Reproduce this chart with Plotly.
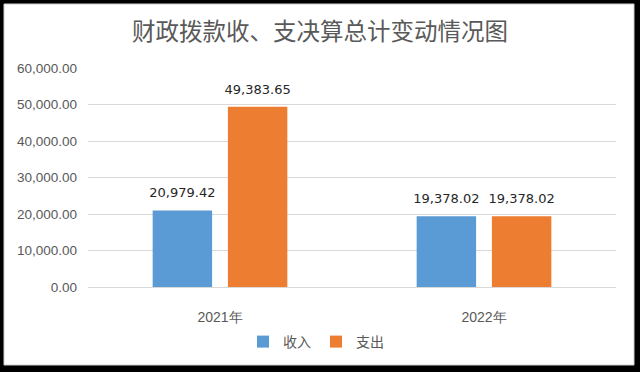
import plotly.graph_objects as go

categories = ["2021年", "2022年"]
income = [20979.42, 19378.02]
expense = [49383.65, 19378.02]
series_names = ["收入", "支出"]
y_tick_vals = [0, 10000, 20000, 30000, 40000, 50000, 60000]
y_tick_text = ["0.00", "10,000.00", "20,000.00", "30,000.00", "40,000.00", "50,000.00", "60,000.00"]
title_text = "财政拨款收、支决算总计变动情况图"

W, H = 640, 372
L, R, T, B = 88, 24, 68, 85
pw, ph = W - L - R, H - T - B

def fmt(v):
    return f"{v:,.2f}"

fig = go.Figure()
series = [(series_names[0], income, "#5B9BD5"), (series_names[1], expense, "#ED7D31")]
for i, (name, vals, color) in enumerate(series):
    fig.add_trace(go.Bar(
        x=categories, y=vals, name=name, marker_color=color, marker_line_width=0,
        offsetgroup=str(i),
    ))
for i, (name, vals, color) in enumerate(series):
    fig.add_trace(go.Scatter(
        x=categories, y=vals, mode="markers+text", showlegend=False, hoverinfo="skip",
        offsetgroup=str(i), text=[fmt(v) for v in vals], textposition="top center",
        marker=dict(size=14, color="rgba(0,0,0,0)"), cliponaxis=False,
        textfont=dict(family="DejaVu Sans", size=13, color="#262626"),
    ))

def px_to_paper_x(px):
    return (px - L) / pw

def px_to_paper_y(py):
    return (H - B - py) / ph

# white panel on black background
fig.add_shape(type="rect", xref="paper", yref="paper", layer="below",
              x0=px_to_paper_x(4), x1=px_to_paper_x(634),
              y0=px_to_paper_y(365), y1=px_to_paper_y(4),
              fillcolor="white", line=dict(color="#d0d0d0", width=1))

fig.update_layout(
    width=W, height=H,
    margin=dict(l=L, r=R, t=T, b=B, autoexpand=False),
    paper_bgcolor="black", plot_bgcolor="rgba(0,0,0,0)",
    barmode="group", scattermode="group", bargap=0.43, bargroupgap=0.21, scattergap=0.43,
    title=dict(text=title_text, x=0.5, xanchor="center", xref="container",
               y=1 - 32 / H, yanchor="middle",
               font=dict(family="Noto Sans CJK SC", size=23.5, color="#595959")),
    showlegend=True,
    legend=dict(orientation="h", x=px_to_paper_x(316), xanchor="center",
                y=px_to_paper_y(342), yanchor="middle",
                font=dict(family="Noto Sans CJK SC", size=14, color="#595959"),
                itemwidth=30, bgcolor="rgba(0,0,0,0)"),
    font=dict(family="Liberation Sans", color="#595959"),
)
fig.update_yaxes(range=[0, 60000], tickvals=y_tick_vals, ticktext=y_tick_text,
                 showgrid=True, gridcolor="#d9d9d9", gridwidth=1,
                 zeroline=True, zerolinecolor="#d9d9d9", zerolinewidth=1,
                 tickfont=dict(family="Liberation Sans", size=13.5, color="#595959"),
                 ticklabelstandoff=10, showline=False)
fig.update_xaxes(tickfont=dict(family="Liberation Sans", size=14, color="#595959"),
                 ticklabelstandoff=20, showline=False)

fig.write_html("out.html", config={"displayModeBar": False},
               post_script="document.body.style.margin='0';")
